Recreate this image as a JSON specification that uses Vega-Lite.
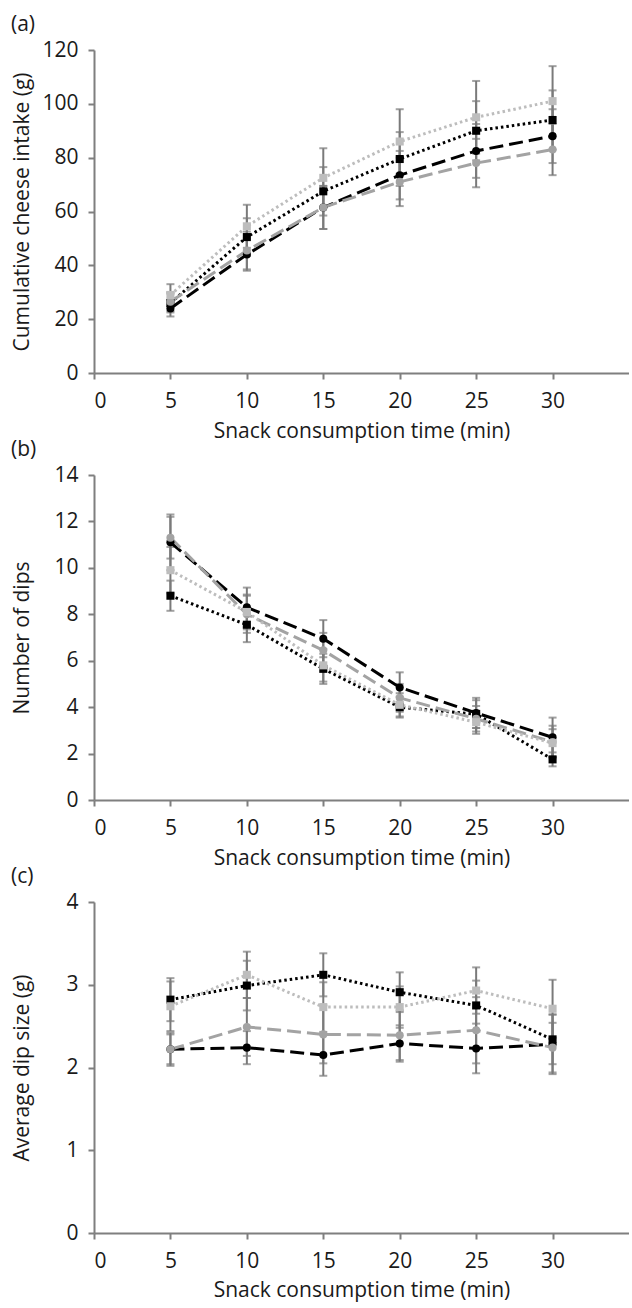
{
  "$schema": "https://vega.github.io/schema/vega-lite/v6.json",
  "padding": {"left": 11, "top": 14, "right": 0, "bottom": 6},
  "spacing": -2,
  "datasets": {
    "pts": [
      {"panel": "a", "series": "S1", "time": 5, "value": 24, "lo": 21, "hi": 27},
      {"panel": "a", "series": "S1", "time": 10, "value": 44, "lo": 38, "hi": 50},
      {"panel": "a", "series": "S1", "time": 15, "value": 61.5, "lo": 53.5, "hi": 69.5},
      {"panel": "a", "series": "S1", "time": 20, "value": 73.5, "lo": 64.5, "hi": 82.5},
      {"panel": "a", "series": "S1", "time": 25, "value": 82.5, "lo": 72.5, "hi": 92.5},
      {"panel": "a", "series": "S1", "time": 30, "value": 88, "lo": 78, "hi": 98},
      {"panel": "a", "series": "S2", "time": 5, "value": 26, "lo": 22.5, "hi": 29.5},
      {"panel": "a", "series": "S2", "time": 10, "value": 50.5, "lo": 43.5, "hi": 57.5},
      {"panel": "a", "series": "S2", "time": 15, "value": 67.5, "lo": 58.5, "hi": 76.5},
      {"panel": "a", "series": "S2", "time": 20, "value": 79.5, "lo": 69.5, "hi": 89.5},
      {"panel": "a", "series": "S2", "time": 25, "value": 90, "lo": 79, "hi": 101},
      {"panel": "a", "series": "S2", "time": 30, "value": 94, "lo": 83, "hi": 105},
      {"panel": "a", "series": "S3", "time": 5, "value": 26.5, "lo": 23, "hi": 30},
      {"panel": "a", "series": "S3", "time": 10, "value": 45.5, "lo": 38.5, "hi": 52.5},
      {"panel": "a", "series": "S3", "time": 15, "value": 61.5, "lo": 53.5, "hi": 69.5},
      {"panel": "a", "series": "S3", "time": 20, "value": 71, "lo": 62, "hi": 80},
      {"panel": "a", "series": "S3", "time": 25, "value": 78, "lo": 69, "hi": 87},
      {"panel": "a", "series": "S3", "time": 30, "value": 83, "lo": 73.5, "hi": 92.5},
      {"panel": "a", "series": "S4", "time": 5, "value": 29, "lo": 25, "hi": 33},
      {"panel": "a", "series": "S4", "time": 10, "value": 54.5, "lo": 46.5, "hi": 62.5},
      {"panel": "a", "series": "S4", "time": 15, "value": 72.5, "lo": 61.5, "hi": 83.5},
      {"panel": "a", "series": "S4", "time": 20, "value": 86, "lo": 74, "hi": 98},
      {"panel": "a", "series": "S4", "time": 25, "value": 95, "lo": 81.5, "hi": 108.5},
      {"panel": "a", "series": "S4", "time": 30, "value": 101, "lo": 88, "hi": 114},

      {"panel": "b", "series": "S1", "time": 5, "value": 11.1, "lo": 9.9, "hi": 12.3},
      {"panel": "b", "series": "S1", "time": 10, "value": 8.3, "lo": 7.45, "hi": 9.15},
      {"panel": "b", "series": "S1", "time": 15, "value": 6.95, "lo": 6.15, "hi": 7.75},
      {"panel": "b", "series": "S1", "time": 20, "value": 4.85, "lo": 4.2, "hi": 5.5},
      {"panel": "b", "series": "S1", "time": 25, "value": 3.75, "lo": 3.1, "hi": 4.4},
      {"panel": "b", "series": "S1", "time": 30, "value": 2.7, "lo": 1.85, "hi": 3.55},
      {"panel": "b", "series": "S2", "time": 5, "value": 8.8, "lo": 8.15, "hi": 9.45},
      {"panel": "b", "series": "S2", "time": 10, "value": 7.55, "lo": 6.8, "hi": 8.3},
      {"panel": "b", "series": "S2", "time": 15, "value": 5.65, "lo": 5.0, "hi": 6.3},
      {"panel": "b", "series": "S2", "time": 20, "value": 4.0, "lo": 3.55, "hi": 4.45},
      {"panel": "b", "series": "S2", "time": 25, "value": 3.7, "lo": 3.1, "hi": 4.3},
      {"panel": "b", "series": "S2", "time": 30, "value": 1.75, "lo": 1.45, "hi": 2.05},
      {"panel": "b", "series": "S3", "time": 5, "value": 11.3, "lo": 10.4, "hi": 12.2},
      {"panel": "b", "series": "S3", "time": 10, "value": 8.0, "lo": 7.2, "hi": 8.8},
      {"panel": "b", "series": "S3", "time": 15, "value": 6.45, "lo": 5.7, "hi": 7.2},
      {"panel": "b", "series": "S3", "time": 20, "value": 4.4, "lo": 3.8, "hi": 5.0},
      {"panel": "b", "series": "S3", "time": 25, "value": 3.5, "lo": 2.95, "hi": 4.05},
      {"panel": "b", "series": "S3", "time": 30, "value": 2.5, "lo": 1.8, "hi": 3.2},
      {"panel": "b", "series": "S4", "time": 5, "value": 9.9, "lo": 8.9, "hi": 10.9},
      {"panel": "b", "series": "S4", "time": 10, "value": 8.1, "lo": 7.35, "hi": 8.85},
      {"panel": "b", "series": "S4", "time": 15, "value": 5.8, "lo": 5.1, "hi": 6.5},
      {"panel": "b", "series": "S4", "time": 20, "value": 4.1, "lo": 3.6, "hi": 4.6},
      {"panel": "b", "series": "S4", "time": 25, "value": 3.35, "lo": 2.85, "hi": 3.85},
      {"panel": "b", "series": "S4", "time": 30, "value": 2.45, "lo": 1.85, "hi": 3.05},

      {"panel": "c", "series": "S1", "time": 5, "value": 2.22, "lo": 2.04, "hi": 2.4},
      {"panel": "c", "series": "S1", "time": 10, "value": 2.24, "lo": 2.04, "hi": 2.44},
      {"panel": "c", "series": "S1", "time": 15, "value": 2.15, "lo": 1.9, "hi": 2.4},
      {"panel": "c", "series": "S1", "time": 20, "value": 2.29, "lo": 2.07, "hi": 2.51},
      {"panel": "c", "series": "S1", "time": 25, "value": 2.23, "lo": 1.93, "hi": 2.53},
      {"panel": "c", "series": "S1", "time": 30, "value": 2.28, "lo": 1.92, "hi": 2.64},
      {"panel": "c", "series": "S2", "time": 5, "value": 2.82, "lo": 2.56, "hi": 3.08},
      {"panel": "c", "series": "S2", "time": 10, "value": 2.99, "lo": 2.69, "hi": 3.29},
      {"panel": "c", "series": "S2", "time": 15, "value": 3.12, "lo": 2.86, "hi": 3.38},
      {"panel": "c", "series": "S2", "time": 20, "value": 2.91, "lo": 2.67, "hi": 3.15},
      {"panel": "c", "series": "S2", "time": 25, "value": 2.75, "lo": 2.45, "hi": 3.05},
      {"panel": "c", "series": "S2", "time": 30, "value": 2.34, "lo": 2.04, "hi": 2.64},
      {"panel": "c", "series": "S3", "time": 5, "value": 2.22, "lo": 2.02, "hi": 2.42},
      {"panel": "c", "series": "S3", "time": 10, "value": 2.49, "lo": 2.14, "hi": 2.84},
      {"panel": "c", "series": "S3", "time": 15, "value": 2.4, "lo": 2.05, "hi": 2.75},
      {"panel": "c", "series": "S3", "time": 20, "value": 2.39, "lo": 2.09, "hi": 2.69},
      {"panel": "c", "series": "S3", "time": 25, "value": 2.45, "lo": 2.05, "hi": 2.85},
      {"panel": "c", "series": "S3", "time": 30, "value": 2.24, "lo": 1.94, "hi": 2.54},
      {"panel": "c", "series": "S4", "time": 5, "value": 2.74, "lo": 2.44, "hi": 3.04},
      {"panel": "c", "series": "S4", "time": 10, "value": 3.12, "lo": 2.84, "hi": 3.4},
      {"panel": "c", "series": "S4", "time": 15, "value": 2.73, "lo": 2.43, "hi": 3.03},
      {"panel": "c", "series": "S4", "time": 20, "value": 2.73, "lo": 2.48, "hi": 2.98},
      {"panel": "c", "series": "S4", "time": 25, "value": 2.93, "lo": 2.65, "hi": 3.21},
      {"panel": "c", "series": "S4", "time": 30, "value": 2.71, "lo": 2.36, "hi": 3.06}
    ]
  },
  "vconcat": [
    {
      "title": {"text": "(a)"},
      "width": 535,
      "height": 323,
      "data": {"name": "pts"},
      "transform": [{"filter": "datum.panel == 'a'"}],
      "layer": [
        {
          "mark": {"type": "rule", "color": "#7a7a7a", "strokeWidth": 2},
          "encoding": {
            "x": {"field": "time", "type": "quantitative", "scale": {"domain": [0, 35], "nice": false}, "axis": {"values": [0, 5, 10, 15, 20, 25, 30]}, "title": "Snack consumption time (min)"},
            "y": {"field": "lo", "type": "quantitative", "scale": {"domain": [0, 120], "nice": false}, "axis": {"values": [0, 20, 40, 60, 80, 100, 120], "format": "d"}, "title": "Cumulative cheese intake (g)"},
            "y2": {"field": "hi"}
          }
        },
        {
          "mark": {"type": "tick", "color": "#7a7a7a", "orient": "horizontal", "size": 8, "thickness": 2},
          "encoding": {
            "x": {"field": "time", "type": "quantitative", "title": "Snack consumption time (min)"},
            "y": {"field": "lo", "type": "quantitative", "title": "Cumulative cheese intake (g)"}
          }
        },
        {
          "mark": {"type": "tick", "color": "#7a7a7a", "orient": "horizontal", "size": 8, "thickness": 2},
          "encoding": {
            "x": {"field": "time", "type": "quantitative", "title": "Snack consumption time (min)"},
            "y": {"field": "hi", "type": "quantitative", "title": "Cumulative cheese intake (g)"}
          }
        },
        {
          "mark": {"type": "line", "strokeWidth": 3},
          "encoding": {
            "x": {"field": "time", "type": "quantitative", "title": "Snack consumption time (min)"},
            "y": {"field": "value", "type": "quantitative", "title": "Cumulative cheese intake (g)"},
            "color": {"field": "series", "type": "nominal", "legend": null, "scale": {"domain": ["S1", "S2", "S3", "S4"], "range": ["#000000", "#000000", "#a3a3a3", "#bdbdbd"]}},
            "strokeDash": {"field": "series", "type": "nominal", "legend": null, "scale": {"domain": ["S1", "S2", "S3", "S4"], "range": [[14, 6], [2.5, 3], [14, 6], [2.5, 3]]}}
          }
        },
        {
          "mark": {"type": "point", "filled": true, "size": 65, "opacity": 1},
          "encoding": {
            "x": {"field": "time", "type": "quantitative", "title": "Snack consumption time (min)"},
            "y": {"field": "value", "type": "quantitative", "title": "Cumulative cheese intake (g)"},
            "color": {"field": "series", "type": "nominal", "legend": null, "scale": {"domain": ["S1", "S2", "S3", "S4"], "range": ["#000000", "#000000", "#a3a3a3", "#bdbdbd"]}},
            "shape": {"field": "series", "type": "nominal", "legend": null, "scale": {"domain": ["S1", "S2", "S3", "S4"], "range": ["circle", "square", "circle", "square"]}}
          }
        }
      ]
    },
    {
      "title": {"text": "(b)"},
      "width": 535,
      "height": 325,
      "data": {"name": "pts"},
      "transform": [{"filter": "datum.panel == 'b'"}],
      "layer": [
        {
          "mark": {"type": "rule", "color": "#7a7a7a", "strokeWidth": 2},
          "encoding": {
            "x": {"field": "time", "type": "quantitative", "scale": {"domain": [0, 35], "nice": false}, "axis": {"values": [0, 5, 10, 15, 20, 25, 30]}, "title": "Snack consumption time (min)"},
            "y": {"field": "lo", "type": "quantitative", "scale": {"domain": [0, 14], "nice": false}, "axis": {"values": [0, 2, 4, 6, 8, 10, 12, 14], "format": "d"}, "title": "Number of dips"},
            "y2": {"field": "hi"}
          }
        },
        {
          "mark": {"type": "tick", "color": "#7a7a7a", "orient": "horizontal", "size": 8, "thickness": 2},
          "encoding": {
            "x": {"field": "time", "type": "quantitative", "title": "Snack consumption time (min)"},
            "y": {"field": "lo", "type": "quantitative", "title": "Number of dips"}
          }
        },
        {
          "mark": {"type": "tick", "color": "#7a7a7a", "orient": "horizontal", "size": 8, "thickness": 2},
          "encoding": {
            "x": {"field": "time", "type": "quantitative", "title": "Snack consumption time (min)"},
            "y": {"field": "hi", "type": "quantitative", "title": "Number of dips"}
          }
        },
        {
          "mark": {"type": "line", "strokeWidth": 3},
          "encoding": {
            "x": {"field": "time", "type": "quantitative", "title": "Snack consumption time (min)"},
            "y": {"field": "value", "type": "quantitative", "title": "Number of dips"},
            "color": {"field": "series", "type": "nominal", "legend": null, "scale": {"domain": ["S1", "S2", "S3", "S4"], "range": ["#000000", "#000000", "#a3a3a3", "#bdbdbd"]}},
            "strokeDash": {"field": "series", "type": "nominal", "legend": null, "scale": {"domain": ["S1", "S2", "S3", "S4"], "range": [[14, 6], [2.5, 3], [14, 6], [2.5, 3]]}}
          }
        },
        {
          "mark": {"type": "point", "filled": true, "size": 65, "opacity": 1},
          "encoding": {
            "x": {"field": "time", "type": "quantitative", "title": "Snack consumption time (min)"},
            "y": {"field": "value", "type": "quantitative", "title": "Number of dips"},
            "color": {"field": "series", "type": "nominal", "legend": null, "scale": {"domain": ["S1", "S2", "S3", "S4"], "range": ["#000000", "#000000", "#a3a3a3", "#bdbdbd"]}},
            "shape": {"field": "series", "type": "nominal", "legend": null, "scale": {"domain": ["S1", "S2", "S3", "S4"], "range": ["circle", "square", "circle", "square"]}}
          }
        }
      ]
    },
    {
      "title": {"text": "(c)"},
      "width": 535,
      "height": 331,
      "data": {"name": "pts"},
      "transform": [{"filter": "datum.panel == 'c'"}],
      "layer": [
        {
          "mark": {"type": "rule", "color": "#7a7a7a", "strokeWidth": 2},
          "encoding": {
            "x": {"field": "time", "type": "quantitative", "scale": {"domain": [0, 35], "nice": false}, "axis": {"values": [0, 5, 10, 15, 20, 25, 30], "titlePadding": 8}, "title": "Snack consumption time (min)"},
            "y": {"field": "lo", "type": "quantitative", "scale": {"domain": [0, 4], "nice": false}, "axis": {"values": [0, 1, 2, 3, 4], "format": "d"}, "title": "Average dip size (g)"},
            "y2": {"field": "hi"}
          }
        },
        {
          "mark": {"type": "tick", "color": "#7a7a7a", "orient": "horizontal", "size": 8, "thickness": 2},
          "encoding": {
            "x": {"field": "time", "type": "quantitative", "title": "Snack consumption time (min)"},
            "y": {"field": "lo", "type": "quantitative", "title": "Average dip size (g)"}
          }
        },
        {
          "mark": {"type": "tick", "color": "#7a7a7a", "orient": "horizontal", "size": 8, "thickness": 2},
          "encoding": {
            "x": {"field": "time", "type": "quantitative", "title": "Snack consumption time (min)"},
            "y": {"field": "hi", "type": "quantitative", "title": "Average dip size (g)"}
          }
        },
        {
          "mark": {"type": "line", "strokeWidth": 3},
          "encoding": {
            "x": {"field": "time", "type": "quantitative", "title": "Snack consumption time (min)"},
            "y": {"field": "value", "type": "quantitative", "title": "Average dip size (g)"},
            "color": {"field": "series", "type": "nominal", "legend": null, "scale": {"domain": ["S1", "S2", "S3", "S4"], "range": ["#000000", "#000000", "#a3a3a3", "#bdbdbd"]}},
            "strokeDash": {"field": "series", "type": "nominal", "legend": null, "scale": {"domain": ["S1", "S2", "S3", "S4"], "range": [[14, 6], [2.5, 3], [14, 6], [2.5, 3]]}}
          }
        },
        {
          "mark": {"type": "point", "filled": true, "size": 65, "opacity": 1},
          "encoding": {
            "x": {"field": "time", "type": "quantitative", "title": "Snack consumption time (min)"},
            "y": {"field": "value", "type": "quantitative", "title": "Average dip size (g)"},
            "color": {"field": "series", "type": "nominal", "legend": null, "scale": {"domain": ["S1", "S2", "S3", "S4"], "range": ["#000000", "#000000", "#a3a3a3", "#bdbdbd"]}},
            "shape": {"field": "series", "type": "nominal", "legend": null, "scale": {"domain": ["S1", "S2", "S3", "S4"], "range": ["circle", "square", "circle", "square"]}}
          }
        }
      ]
    }
  ],
  "config": {
    "view": {"stroke": null},
    "font": "Open Sans",
    "title": {"anchor": "start", "frame": "bounds", "font": "Open Sans", "fontSize": 21, "fontWeight": "normal", "color": "#1a1a1a", "offset": 4},
    "axis": {
      "grid": false,
      "domainColor": "#7f7f7f",
      "domainWidth": 2,
      "tickColor": "#7f7f7f",
      "tickWidth": 2,
      "tickSize": 6,
      "labelFont": "Open Sans",
      "labelFontSize": 21,
      "labelColor": "#1a1a1a",
      "titleFont": "Open Sans",
      "titleFontSize": 21,
      "titleFontWeight": "normal",
      "titleColor": "#1a1a1a"
    },
    "axisX": {"labelPadding": 11, "titlePadding": 9},
    "axisY": {"labelPadding": 10, "titleX": -66, "titleBaseline": "alphabetic"}
  }
}
